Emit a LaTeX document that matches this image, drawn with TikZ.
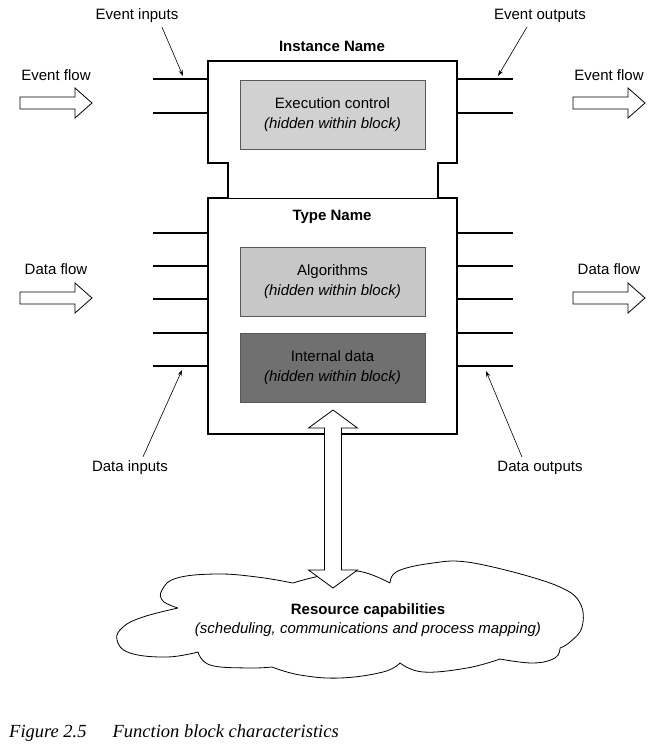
\documentclass[tikz,border=0pt]{standalone}
\usepackage{fontspec}
\setmainfont{Liberation Sans}
\newfontfamily\capfont{Liberation Serif}
\usetikzlibrary{arrows.meta,positioning}

\begin{document}
\begin{tikzpicture}[x=1pt, y=-1pt,
  lbl/.style={font=\fontsize{15}{20}\selectfont, inner sep=2pt},
  ttl/.style={font=\fontsize{15}{18}\selectfont\bfseries},
  hidbox/.style={draw=black!65, line width=1pt, minimum width=185pt,
    minimum height=69pt, align=center, font=\fontsize{15}{20}\selectfont},
  outline/.style={line width=2.8pt},
  port/.style={line width=1.8pt},
  leader/.style={line width=0.6pt, -{Stealth[length=6pt,width=4pt]}},
  hollow/.style={line width=0.8pt, fill=white},
  flowarr/.pic={
    \draw[hollow] (-36,-6) -- (19,-6) -- (19,-15) -- (36,0) -- (19,15)
      -- (19,6) -- (-36,6) -- cycle;
  },
  reslink/.pic={
    \draw[hollow] (-8.5,-71) -- (-24.5,-71) -- (0,-89) -- (24.5,-71)
      -- (8.5,-71) -- (8.5,71) -- (24.5,71) -- (0,89) -- (-24.5,71)
      -- (-8.5,71) -- cycle;
  },
  cloudline/.style={line width=0.8pt, line join=round}]
  \useasboundingbox (0,0) rectangle (668,747);

  % Resource cloud
  \draw[cloudline]
    plot[smooth, tension=0.7] coordinates {(178,608) (163,601) (162,590) (177,578) (217,574) (257,577) (293,583)}
    -- plot[smooth, tension=0.7] coordinates {(293,583) (320,576) (357,571) (390,583)}
    -- plot[smooth, tension=0.7] coordinates {(390,583) (398,571) (433,563) (467,562) (517,573)}
    -- plot[smooth, tension=0.7] coordinates {(517,573) (560,587) (580,603) (582,627) (570,642) (560,648)}
    -- plot[smooth, tension=0.7] coordinates {(560,648) (555,658) (533,663) (500,659)}
    -- plot[smooth, tension=0.7] coordinates {(500,659) (467,668) (423,672) (400,663)}
    -- plot[smooth, tension=0.7] coordinates {(400,663) (383,672) (340,678) (300,675) (272,667)}
    -- plot[smooth, tension=0.7] coordinates {(272,667) (247,668) (210,665) (198,652)}
    -- plot[smooth, tension=0.7] coordinates {(198,652) (167,657) (130,653) (117,640) (123,627) (143,617) (178,608)};
  \node[align=center, font=\fontsize{15}{19}\selectfont] (rescap) at (368,620.5)
    {\textbf{Resource capabilities}\\\textit{(scheduling, communications and process mapping)}};

  % Block outline
  \draw[outline] (208,61) -- (457,61) -- (457,163) -- (438,163) -- (438,198)
    -- (457,198) -- (457,434) -- (208,434) -- (208,198) -- (228,198)
    -- (228,163) -- (208,163) -- cycle;
  \draw[line width=0.8pt] (228,198) -- (438,198);
  \node[ttl] (instname) at (332,46) {Instance Name};
  \node[ttl] (typename) at (332,217) {Type Name};

  % Hidden parts
  \node[hidbox, fill=black!18] (exec) at (332.5,114.5)
    {Execution control\\\textit{(hidden within block)}};
  \node[hidbox, fill=black!22] (algo) at (332.5,282)
    {Algorithms\\\textit{(hidden within block)}};
  \node[hidbox, fill=black!56] (intdata) at (332.5,367.5)
    {Internal data\\\textit{(hidden within block)}};

  % Event and data lines
  \foreach \y in {79,113} {
    \draw[port] (153,\y) -- (208,\y);
    \draw[port] (457,\y) -- (513,\y);
  }
  \foreach \y in {233,266,299,333,366} {
    \draw[port] (153,\y) -- (208,\y);
    \draw[port] (457,\y) -- (513,\y);
  }

  % Flows
  \node[lbl] (evflowinlbl) at (56,75) {Event flow};
  \pic (evflowin) at (56,103) {flowarr};
  \node[lbl] (evflowoutlbl) at (609,75) {Event flow};
  \pic (evflowout) at (609,103) {flowarr};
  \node[lbl] (dflowinlbl) at (56,269) {Data flow};
  \pic (dflowin) at (56,298) {flowarr};
  \node[lbl] (dflowoutlbl) at (609,269) {Data flow};
  \pic (dflowout) at (609,298) {flowarr};

  % Leaders
  \node[lbl] (evinlbl) at (137,16) {Event inputs};
  \node[lbl] (evoutlbl) at (540,16) {Event outputs};
  \node[lbl] (dinlbl) at (130,468) {Data inputs};
  \node[lbl] (doutlbl) at (540,468) {Data outputs};
  \coordinate (evin) at (183,76);
  \coordinate (evout) at (498,76);
  \coordinate (din) at (182,370);
  \coordinate (dout) at (486,371);
  \draw[leader] ([xshift=25pt,yshift=-2pt]evinlbl.south) -- (evin);
  \draw[leader] ([xshift=-13pt,yshift=-2pt]evoutlbl.south) -- (evout);
  \draw[leader] ([xshift=13pt,yshift=2pt]dinlbl.north) -- (din);
  \draw[leader] ([xshift=-18pt,yshift=2pt]doutlbl.north) -- (dout);

  % Resource link
  \pic (reslinkarr) at (333,499) {reslink};

  % Caption
  \node[anchor=base west, inner sep=0pt, font=\capfont\itshape\fontsize{18.5}{22}\selectfont]
    (figcap) at (9,737) {Figure 2.5\hspace{26pt}Function block characteristics};
\end{tikzpicture}
\end{document}
